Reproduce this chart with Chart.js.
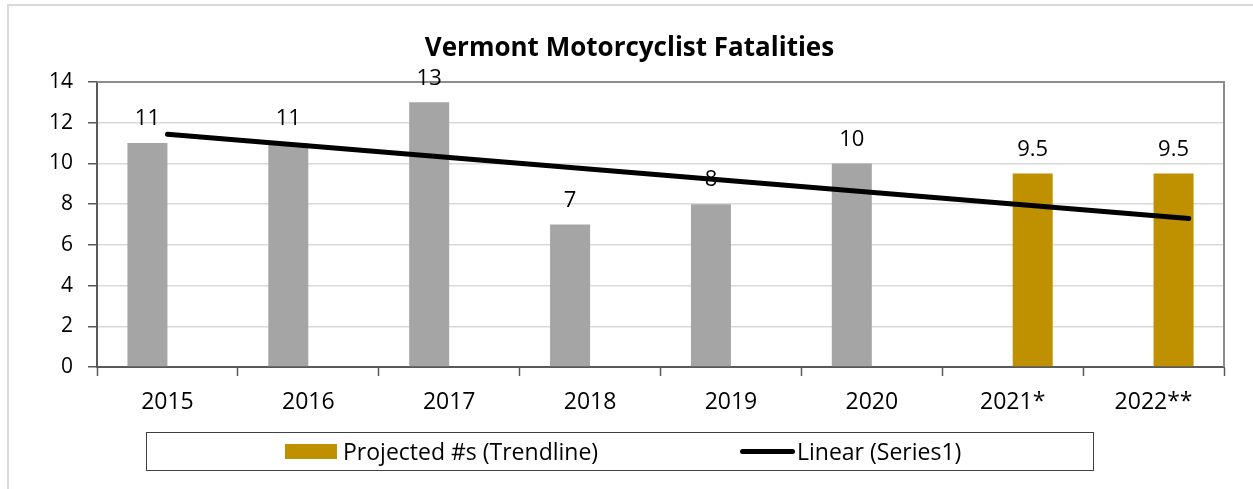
<!DOCTYPE html>
<html>
<head>
<meta charset="utf-8">
<script src="https://cdn.jsdelivr.net/npm/chart.js@4.4.1/dist/chart.umd.min.js"></script>
<style>
  body { margin: 0; background: #fff; overflow: hidden; }
  #wrap { position: relative; width: 1253px; height: 489px; }
  #frame { position: absolute; left: 7px; top: 4px; width: 1300px; height: 540px; border: 2px solid #d9d9d9; box-sizing: border-box; }
  #chartBox { position: absolute; left: 0; top: 0; width: 1253px; height: 489px; }
  #title { position: absolute; left: 0; top: 30px; width: 1259px; text-align: center; line-height: 32px;
           font-family: "Open Sans", sans-serif; font-weight: bold; font-size: 26px; color: #000; }
  #legend { position: absolute; left: 146px; top: 432px; width: 948px; height: 39px; border: 1px solid #404040; box-sizing: border-box;
            font-family: "Open Sans", sans-serif; font-size: 23px; color: #000; }
  .item { position: absolute; top: 0; height: 37px; line-height: 37px; white-space: nowrap; }
  .swatch { position: absolute; left: 0; top: 11px; width: 52px; height: 15px; }
  .stroke { position: absolute; left: 0; top: 16px; width: 55px; height: 5px; border-radius: 3px; }
</style>
</head>
<body>
<div id="wrap">
  <div id="frame"></div>
  <div id="chartBox"><canvas id="fatalChart"></canvas></div>
  <div id="title">Vermont Motorcyclist Fatalities</div>
  <div id="legend">
    <div class="item" style="left:138px;"><span class="swatch" style="background:#bf9000"></span><span style="padding-left:58px">Projected #s (Trendline)</span></div>
    <div class="item" style="left:593px;"><span class="stroke" style="background:#000"></span><span style="padding-left:57px">Linear (Series1)</span></div>
  </div>
</div>
<script>
// DATA
const years = ["2015", "2016", "2017", "2018", "2019", "2020", "2021*", "2022**"];
const actual = [11, 11, 13, 7, 8, 10, null, null];
const projected = [null, null, null, null, null, null, 9.5, 9.5];
// trendline ends (x in category units, 0 = 2015)
const trendX = [0, 7.25];
const trendY = [11.43, 7.29];

const axisDark = "#595959";

// value labels above the bars, drawn before the trendline so it covers them
const barLabels = {
  id: "barLabels",
  afterDatasetDraw(chart, args) {
    if (args.meta.type !== "bar") return;
    const ctx = chart.ctx;
    const values = chart.data.datasets[args.index].data;
    ctx.save();
    ctx.font = "22px 'Open Sans'";
    ctx.fillStyle = "#000";
    ctx.textAlign = "center";
    ctx.textBaseline = "middle";
    args.meta.data.forEach((bar, i) => {
      if (values[i] == null) return;
      ctx.fillText(String(values[i]), bar.x, bar.y - 24);
    });
    ctx.restore();
  }
};

// grey top and right edge of the plot area
const plotEdge = {
  id: "plotEdge",
  beforeDatasetsDraw(chart) {
    const a = chart.chartArea;
    const ctx = chart.ctx;
    ctx.save();
    ctx.strokeStyle = "#8c8c8c";
    ctx.lineWidth = 2;
    ctx.beginPath();
    ctx.moveTo(a.left, a.top);
    ctx.lineTo(a.right, a.top);
    ctx.lineTo(a.right, a.bottom);
    ctx.stroke();
    ctx.restore();
  }
};

const ctx = document.getElementById("fatalChart").getContext("2d");

const fatalChart = new Chart(ctx, {
  type: "bar",
  data: {
    labels: years,
    datasets: [
      { label: "Series1", data: actual, backgroundColor: "#a5a5a5", order: 1 },
      { label: "Projected #s (Trendline)", data: projected, backgroundColor: "#bf9000", order: 1 },
      {
        // same category axis; parsing off so the fractional end (7.25) stays as is
        type: "line",
        label: "Linear (Series1)",
        parsing: false,
        data: trendX.map((x, i) => ({ x: x, y: trendY[i] })),
        borderColor: "#000",
        borderWidth: 5,
        borderCapStyle: "round",
        pointRadius: 0,
        fill: false,
        order: 0
      }
    ]
  },
  options: {
    responsive: true,
    maintainAspectRatio: false,
    animation: false,
    layout: { padding: { left: 0, right: 29, top: 82, bottom: 0 } },
    datasets: { bar: { categoryPercentage: 0.568, barPercentage: 1 } },
    plugins: {
      legend: { display: false },
      tooltip: { enabled: false },
      title: { display: false }
    },
    scales: {
      x: {
        type: "category",
        offset: true,
        grid: { offset: true, drawOnChartArea: false, tickLength: 9, tickColor: axisDark, tickWidth: 1.5 },
        border: { color: axisDark, width: 2 },
        ticks: { color: "#000", font: { family: "'Open Sans'", size: 23 }, padding: 13, maxRotation: 0 },
        afterFit(scale) { scale.height = 122; }
      },
      y: {
        min: 0,
        max: 14,
        ticks: { stepSize: 2, color: "#000", font: { family: "'Open Sans'", size: 21 }, padding: 15 },
        grid: { color: "#d9d9d9", lineWidth: 1.5, tickLength: 9, tickColor: axisDark, tickWidth: 1.5 },
        border: { color: axisDark, width: 2 },
        afterFit(scale) { scale.width = 97; }
      }
    }
  },
  plugins: [barLabels, plotEdge]
});
</script>
</body>
</html>
